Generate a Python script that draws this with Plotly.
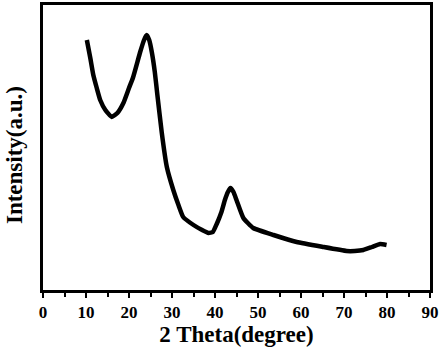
import plotly.graph_objects as go

two_theta = [10.2, 11.0, 11.7, 12.5, 13.3, 14.5, 16.0, 17.3, 18.7, 20.0, 20.9, 22.6, 23.5, 24.1,
             24.7, 25.3, 26.0, 26.6, 27.6, 28.8, 30.3, 31.5, 32.6, 35.0, 37.0, 38.5, 39.5, 40.4,
             41.5, 42.3, 43.0, 43.6, 44.3, 45.0, 46.6, 48.9, 53.6, 59.0, 65.2, 70.6, 72.5, 74.5,
             76.5, 78.4, 79.9]
intensity = [250, 232, 215, 202, 190, 180, 173, 177, 187, 202, 212, 238, 250, 255,
             250, 238, 218, 195, 158, 123, 100, 85, 73, 65, 60, 57, 58, 66,
             78, 90, 98, 102, 98, 90, 72, 62, 55, 48, 43, 39, 39, 40,
             43, 46, 45]
x_ticks = [0, 10, 20, 30, 40, 50, 60, 70, 80, 90]

font_family = "Liberation Serif, Times New Roman, serif"

fig = go.Figure()
fig.add_trace(go.Scatter(x=two_theta, y=intensity, mode="lines",
                         line=dict(color="black", width=4.5, shape="spline", smoothing=0.4)))

fig.update_layout(
    width=443, height=353,
    margin=dict(l=43, r=13, t=5, b=63),
    paper_bgcolor="white", plot_bgcolor="white",
    showlegend=False,
    font=dict(family=font_family, color="black"),
)
fig.update_xaxes(
    range=[0, 90], tickvals=x_ticks, ticktext=[f"<b>{v}</b>" for v in x_ticks],
    automargin=False,
    showgrid=False, zeroline=False,
    showline=True, linecolor="black", linewidth=3, mirror=True,
    ticks="outside", ticklen=5, tickwidth=2, tickcolor="black",
    minor=dict(dtick=5, tick0=0, ticks="outside", ticklen=4, tickwidth=2, tickcolor="black"),
    tickfont=dict(family=font_family, size=17, color="black"),
    title=dict(text="<b>2 Theta(degree)</b>", font=dict(family=font_family, size=23, color="black"),
               standoff=2),
)
fig.update_yaxes(
    range=[0, 285], showticklabels=False, ticks="", automargin=False,
    showgrid=False, zeroline=False,
    showline=True, linecolor="black", linewidth=3, mirror=True,
)
fig.add_annotation(text="<b>Intensity(a.u.)</b>", textangle=-90, xref="paper", yref="paper",
                   x=-0.072, y=0.474, xanchor="center", yanchor="middle", showarrow=False,
                   font=dict(family=font_family, size=23, color="black"))

fig.write_html("out.html", config={"displayModeBar": False},
               post_script="document.body.style.margin='0px';")
